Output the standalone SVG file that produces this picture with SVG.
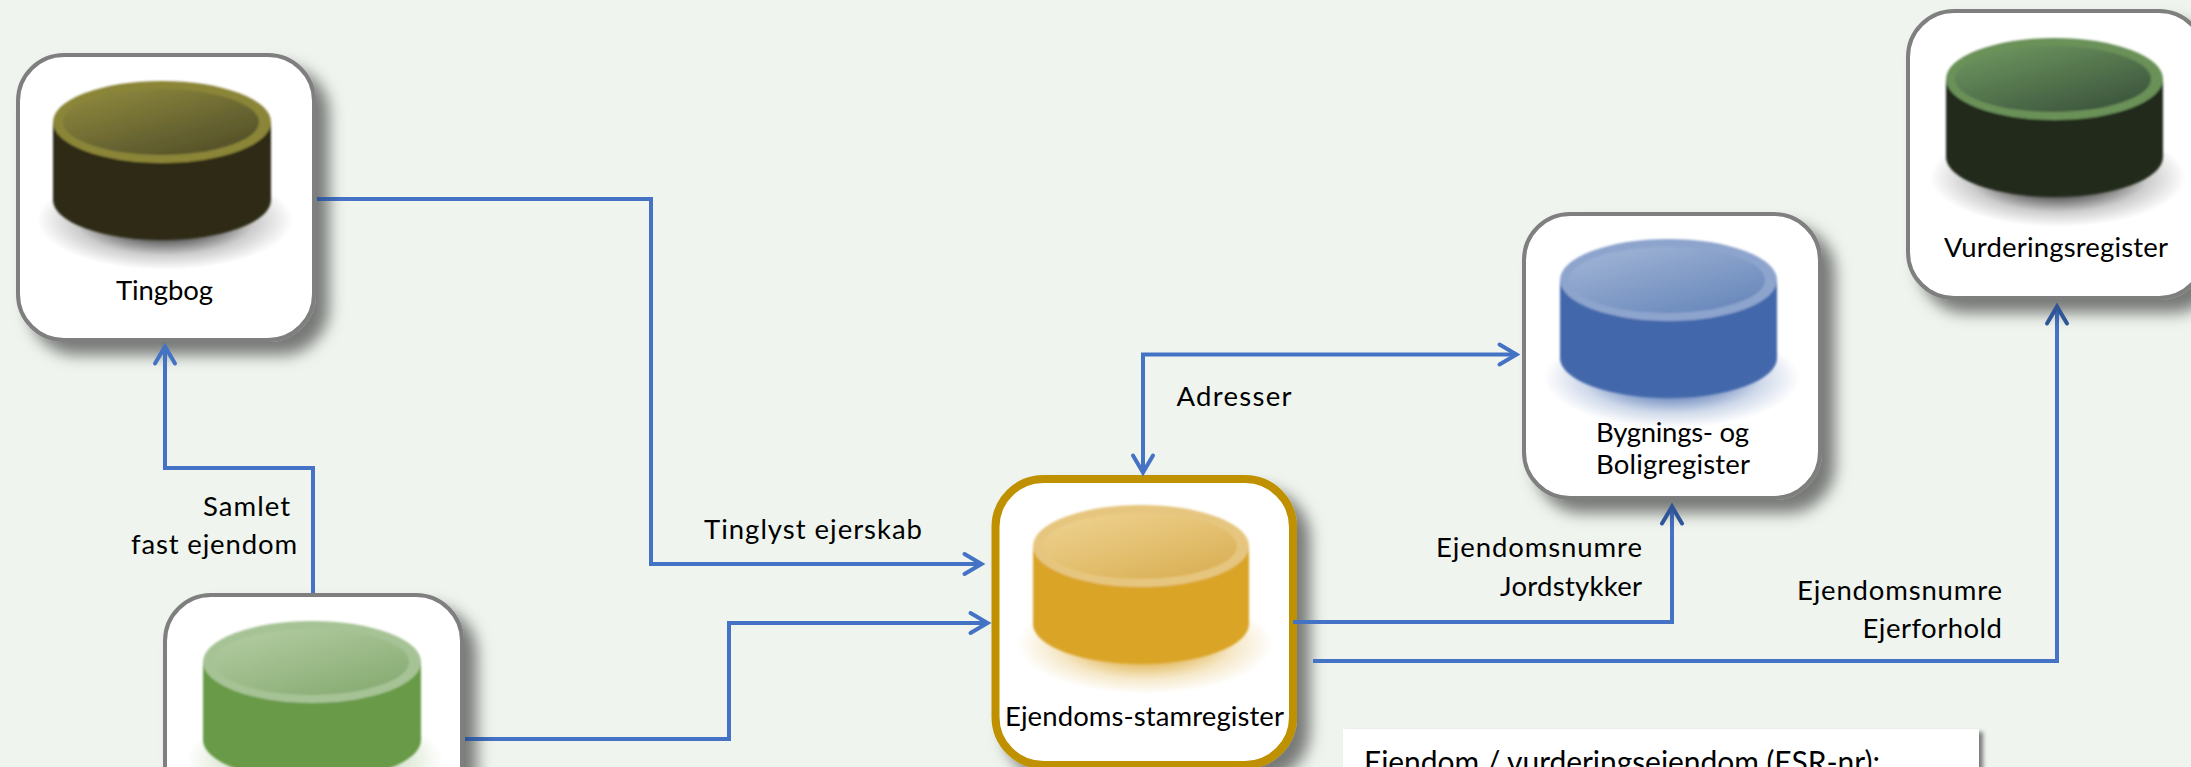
<svg xmlns="http://www.w3.org/2000/svg" width="2191" height="767" viewBox="0 0 2191 767">
<style>
text{font-family:"Lato","Carlito","Liberation Sans",sans-serif;font-size:27.5px;fill:#000}
.box{fill:#fff;stroke:#7f7f7f;stroke-width:4;filter:url(#sh)}
.goldbox{fill:#fff;stroke:#bf9000;stroke-width:8;filter:url(#sh)}
.cn{fill:none;stroke:#4472c4;stroke-width:4;marker-end:url(#ah)}
.cyl{filter:url(#soft)}
.olive .rim{fill:#8b8539}.olive .body{fill:#2e2a14}.olive .inner{fill:url(#iOlive)}
.green .rim{fill:#a6c395}.green .body{fill:#679a46}.green .inner{fill:url(#iGreen)}
.gold .rim{fill:#e6c67f}.gold .body{fill:#daa428}.gold .inner{fill:url(#iGold)}
.blue .rim{fill:#8da4cd}.blue .body{fill:#4268ab}.blue .inner{fill:url(#iBlue)}
.dgreen .rim{fill:#6a9159}.dgreen .body{fill:#232c1b}.dgreen .inner{fill:url(#iDgreen)}
</style>
<defs>
<filter id="sh" x="-10%" y="-10%" width="130%" height="130%"><feDropShadow dx="13" dy="13" stdDeviation="7.5" flood-color="#000" flood-opacity=".5"/></filter>
<filter id="shs" x="-5%" y="-5%" width="110%" height="120%"><feDropShadow dx="4" dy="3" stdDeviation="2" flood-color="#000" flood-opacity=".5"/></filter>
<filter id="soft" x="-10%" y="-10%" width="120%" height="120%"><feGaussianBlur stdDeviation=".8"/></filter>
<linearGradient id="iOlive" x1="0.1" y1="0" x2="0.9" y2="1"><stop offset="0" stop-color="#8f8a3e"/><stop offset="1" stop-color="#4f4c28"/></linearGradient>
<linearGradient id="iGreen" x1="0.1" y1="0" x2="0.9" y2="1"><stop offset="0" stop-color="#b3cda3"/><stop offset="1" stop-color="#85a96f"/></linearGradient>
<linearGradient id="iGold" x1="0.1" y1="0" x2="0.9" y2="1"><stop offset="0" stop-color="#eed290"/><stop offset="1" stop-color="#d9ae52"/></linearGradient>
<linearGradient id="iBlue" x1="0.1" y1="0" x2="0.9" y2="1"><stop offset="0" stop-color="#a2b5d6"/><stop offset="1" stop-color="#6485b9"/></linearGradient>
<linearGradient id="iDgreen" x1="0.1" y1="0" x2="0.9" y2="1"><stop offset="0" stop-color="#6f9760"/><stop offset="1" stop-color="#38503a"/></linearGradient>
<radialGradient id="sGray"><stop offset=".4" stop-color="#000" stop-opacity=".62"/><stop offset=".7" stop-color="#000" stop-opacity=".2"/><stop offset="1" stop-color="#000" stop-opacity="0"/></radialGradient>
<radialGradient id="sGreen"><stop offset=".4" stop-color="#679a46" stop-opacity=".62"/><stop offset=".7" stop-color="#679a46" stop-opacity=".22"/><stop offset="1" stop-color="#679a46" stop-opacity="0"/></radialGradient>
<radialGradient id="sGold"><stop offset=".4" stop-color="#daa428" stop-opacity=".7"/><stop offset=".7" stop-color="#daa428" stop-opacity=".25"/><stop offset="1" stop-color="#daa428" stop-opacity="0"/></radialGradient>
<radialGradient id="sBlue"><stop offset=".4" stop-color="#4268ab" stop-opacity=".7"/><stop offset=".7" stop-color="#4268ab" stop-opacity=".25"/><stop offset="1" stop-color="#4268ab" stop-opacity="0"/></radialGradient>
<linearGradient id="fT" gradientUnits="userSpaceOnUse" x1="317" y1="0" x2="342" y2="0"><stop offset="0" stop-color="#2f5597"/><stop offset="1" stop-color="#4472c4"/></linearGradient>
<linearGradient id="fG" gradientUnits="userSpaceOnUse" x1="465" y1="0" x2="495" y2="0"><stop offset="0" stop-color="#2f5597"/><stop offset="1" stop-color="#4472c4"/></linearGradient>
<linearGradient id="fB" gradientUnits="userSpaceOnUse" x1="0" y1="502" x2="0" y2="528"><stop offset="0" stop-color="#2f5597"/><stop offset="1" stop-color="#4472c4"/></linearGradient>
<linearGradient id="fV" gradientUnits="userSpaceOnUse" x1="0" y1="302" x2="0" y2="328"><stop offset="0" stop-color="#2f5597"/><stop offset="1" stop-color="#4472c4"/></linearGradient>
<marker id="ah" markerUnits="userSpaceOnUse" markerWidth="30" markerHeight="30" viewBox="-24 -15 30 30" refX="0" refY="0" orient="auto-start-reverse"><path d="M-17,-10 L0,0 L-17,10" fill="none" stroke="#4472c4" stroke-width="4" stroke-linecap="round"/></marker>
<marker id="ahd" markerUnits="userSpaceOnUse" markerWidth="30" markerHeight="30" viewBox="-24 -15 30 30" refX="0" refY="0" orient="auto"><path d="M-17,-10 L0,0 L-17,10" fill="none" stroke="#2f5597" stroke-width="4" stroke-linecap="round"/></marker>
</defs>
<rect width="2191" height="767" fill="#eff4ee"/>

<g id="node-tingbog">
<rect class="box" x="18" y="55" width="296" height="285" rx="46"/>
<g class="olive" transform="translate(53 81)">
<ellipse cx="112" cy="139" rx="128" ry="50" fill="url(#sGray)"/>
<g class="cyl"><path class="body" d="M0,41V119A109,40 0 0 0 218,119V41Z"/><ellipse class="rim" cx="109" cy="41" rx="109" ry="41"/><ellipse class="inner" cx="108" cy="41" rx="98" ry="33"/></g>
</g>
<text x="116" y="300" textLength="97">Tingbog</text>
</g>

<g id="node-green">
<rect class="box" x="165" y="595" width="297" height="285" rx="46"/>
<g class="green" transform="translate(203 621)">
<ellipse cx="112" cy="139" rx="128" ry="50" fill="url(#sGreen)"/>
<g class="cyl"><path class="body" d="M0,41V119A109,40 0 0 0 218,119V41Z"/><ellipse class="rim" cx="109" cy="41" rx="109" ry="41"/><ellipse class="inner" cx="108" cy="41" rx="98" ry="33"/></g>
</g>
</g>

<g id="node-ejendoms-stamregister">
<rect class="goldbox" x="995.500" y="479" width="297.500" height="286" rx="48"/>
<g class="gold" transform="translate(1033 505)">
<ellipse cx="112" cy="139" rx="128" ry="50" fill="url(#sGold)"/>
<g class="cyl"><path class="body" d="M0,41V119A108,40 0 0 0 216,119V41Z"/><ellipse class="rim" cx="108" cy="41" rx="108" ry="41"/><ellipse class="inner" cx="107" cy="41" rx="97" ry="33"/></g>
</g>
<text x="1005" y="726" textLength="279">Ejendoms-stamregister</text>
</g>

<g id="node-bygnings">
<rect class="box" x="1524" y="214" width="296" height="284" rx="46"/>
<g class="blue" transform="translate(1560 239)">
<ellipse cx="112" cy="139" rx="128" ry="50" fill="url(#sBlue)"/>
<g class="cyl"><path class="body" d="M0,41V119A108.500,40 0 0 0 217,119V41Z"/><ellipse class="rim" cx="108.500" cy="41" rx="108.500" ry="41"/><ellipse class="inner" cx="107" cy="41" rx="98" ry="33"/></g>
</g>
<text x="1596" y="442" textLength="153">Bygnings- og</text>
<text x="1596" y="474" textLength="154">Boligregister</text>
</g>

<g id="node-vurderingsregister">
<rect class="box" x="1908" y="11" width="297" height="287" rx="46"/>
<g class="dgreen" transform="translate(1946 38)">
<ellipse cx="112" cy="139" rx="128" ry="50" fill="url(#sGray)"/>
<g class="cyl"><path class="body" d="M0,41V119A108.500,40 0 0 0 217,119V41Z"/><ellipse class="rim" cx="108.500" cy="41" rx="108.500" ry="41"/><ellipse class="inner" cx="107" cy="41" rx="98" ry="33"/></g>
</g>
<text x="1944" y="257" textLength="224">Vurderingsregister</text>
</g>

<g id="connectors">
<path class="cn" style="stroke:url(#fT)" d="M317,199H651V564H981.500"/>
<path class="cn" style="stroke:url(#fG)" d="M465,739H729V623H987.500"/>
<path class="cn" d="M313,593V468H165V346.500"/>
<path class="cn" style="marker-start:url(#ah)" d="M1143,472.500V354.500H1516.500"/>
<path class="cn" style="stroke:url(#fB);marker-end:url(#ahd)" d="M1293,622H1672V506.500"/>
<path class="cn" style="stroke:url(#fV);marker-end:url(#ahd)" d="M1313,661H2057V306.500"/>
</g>

<g id="labels">
<text x="1176.500" y="406" textLength="115">Adresser</text>
<text x="704" y="539" textLength="218">Tinglyst ejerskab</text>
<text x="203" y="516" textLength="87">Samlet</text>
<text x="131" y="554" textLength="166">fast ejendom</text>
<text x="1436" y="557" textLength="206">Ejendomsnumre</text>
<text x="1500" y="596" textLength="142">Jordstykker</text>
<text x="1797" y="600" textLength="205">Ejendomsnumre</text>
<text x="1862.500" y="638" textLength="139.500">Ejerforhold</text>
</g>

<g id="note">
<rect x="1343" y="729" width="636" height="60" fill="#fff" filter="url(#shs)"/>
<text x="1364" y="773" textLength="516" style="font-size:30px">Ejendom / vurderingsejendom (ESR-nr):</text>
</g>
</svg>
